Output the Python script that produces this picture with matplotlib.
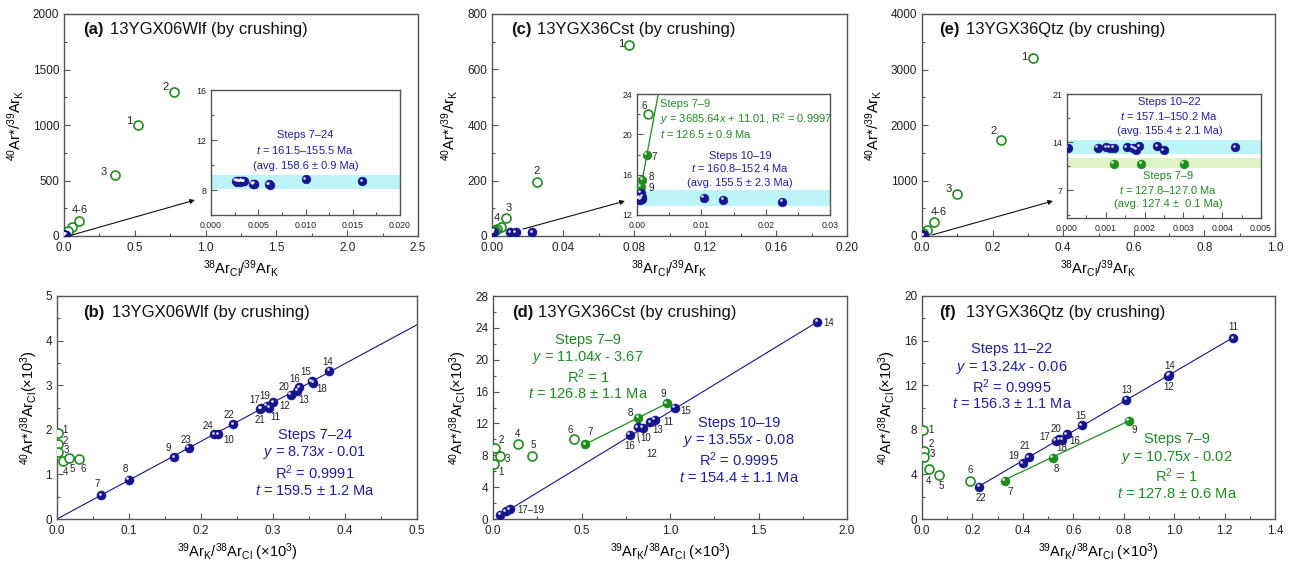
import matplotlib
matplotlib.use("Agg")
import matplotlib.pyplot as plt
from matplotlib.ticker import MultipleLocator, FormatStrFormatter
from matplotlib.transforms import ScaledTranslation

plt.rcParams["font.family"] = ["Liberation Sans", "DejaVu Sans"]
plt.rcParams["mathtext.fontset"] = "custom"
plt.rcParams["mathtext.rm"] = "Liberation Sans"
plt.rcParams["mathtext.it"] = "Liberation Sans:italic"
plt.rcParams["mathtext.bf"] = "Liberation Sans:bold"

# ---------------- values ----------------
# (a) 13YGX06Wlf, 38ArCl/39ArK vs 40Ar*/39ArK
a_open_steps = ["1", "2", "3", "4", "5", "6"]
a_open_x = [0.52, 0.78, 0.36, 0.106, 0.054, 0.030]
a_open_y = [1000, 1300, 550, 138, 84, 48]
a_fill_x = [0.0160, 0.0100, 0.0062, 0.0045, 0.0034, 0.0033, 0.0031, 0.0026, 0.0028,
            0.0030, 0.0034, 0.0028, 0.0032, 0.0030, 0.0035, 0.0044, 0.0061, 0.0046]
a_fill_y = [8.72, 8.86, 8.43, 8.48, 8.70, 8.72, 8.68, 8.75, 8.74,
            8.70, 8.72, 8.68, 8.75, 8.70, 8.72, 8.50, 8.45, 8.50]
a_band = [8.05, 9.23]

# (b) 13YGX06Wlf, 39ArK/38ArCl vs 40Ar*/38ArCl (x1000)
b_open_x = [0.002, 0.002, 0.002, 0.008, 0.016, 0.031]
b_open_y = [1.92, 1.68, 1.51, 1.30, 1.36, 1.35]
b_steps = [str(s) for s in range(7, 25)]
b_x = [0.0614, 0.0994, 0.1627, 0.2242, 0.2949, 0.3005, 0.334, 0.378, 0.3537,
       0.3365, 0.284, 0.356, 0.2913, 0.325, 0.2824, 0.245, 0.183, 0.2186]
b_y = [0.53, 0.88, 1.38, 1.90, 2.50, 2.62, 2.87, 3.32, 3.09,
       2.95, 2.48, 3.06, 2.54, 2.79, 2.47, 2.12, 1.60, 1.90]
b_fit_x = [0.0, 0.5]
b_fit_y = [0.0, 4.355]

# (c) 13YGX36Cst, 38ArCl/39ArK vs 40Ar*/39ArK
c_open_x = [0.0773, 0.0256, 0.0077, 0.0051, 0.0030, 0.0017]
c_open_y = [688, 193, 64, 31, 25, 22.0]
c_green_x = [0.0015, 0.0008, 0.0006]
c_green_y = [18.0, 15.5, 14.8]
c_blue_x = [0.0006, 0.0001, 0.0004, 0.0008, 0.0005, 0.0104, 0.0134, 0.0226, 0.0003, 0.0007]
c_blue_y = [14.2, 13.6, 13.7, 13.8, 13.5, 13.7, 13.5, 13.3, 13.6, 13.6]
c_band = [12.85, 14.5]
c_fit_x = [-0.0002, 0.0033]
c_fit_y = [12.0, 24.0]

# (d) 13YGX36Cst, 39ArK/38ArCl vs 40Ar*/38ArCl (x1000)
d_open_x = [0.006, 0.013, 0.038, 0.141, 0.222, 0.456]
d_open_y = [6.89, 8.89, 7.85, 9.43, 7.85, 10.06]
d_green_x = [0.522, 0.821, 0.983]
d_green_y = [9.39, 12.73, 14.52]
d_blue_steps = ["10", "11", "12", "13", "14", "15", "16", "17", "18", "19"]
d_blue_x = [0.847, 0.915, 0.819, 0.889, 1.832, 1.026, 0.772, 0.041, 0.072, 0.094]
d_blue_y = [11.48, 12.44, 11.52, 12.15, 24.75, 13.99, 10.56, 0.54, 0.96, 1.25]
d_blue_fit_x = [0.041, 1.832]
d_blue_fit_y = [0.48, 24.74]
d_green_fit_x = [0.522, 0.983]
d_green_fit_y = [9.39, 14.52]

# (e) 13YGX36Qtz, 38ArCl/39ArK vs 40Ar*/39ArK
e_open_x = [0.315, 0.223, 0.100, 0.035, 0.013, 0.004]
e_open_y = [3213, 1730, 757, 246, 108, 48]
e_green_x = [0.00121, 0.00191, 0.00301]
e_green_y = [10.9, 10.9, 10.85]
e_blue_x = [0.00002, 0.00079, 0.00101, 0.00121, 0.00154, 0.00175, 0.00179,
            0.00186, 0.00233, 0.00249, 0.00433, 0.00170, 0.00110]
e_blue_y = [13.2, 13.2, 13.27, 13.17, 13.27, 13.1, 12.9,
            13.4, 13.4, 12.87, 13.27, 13.2, 13.2]
e_band_blue = [12.3, 14.33]
e_band_green = [10.2, 11.7]

# (f) 13YGX36Qtz, 39ArK/38ArCl vs 40Ar*/38ArCl (x1000)
f_open_x = [0.003, 0.007, 0.009, 0.029, 0.066, 0.190]
f_open_y = [7.95, 6.10, 5.55, 4.44, 3.99, 3.39]
f_green_x = [0.328, 0.518, 0.820]
f_green_y = [3.45, 5.49, 8.79]
f_blue_steps = ["11", "12", "13", "14", "15", "16", "17", "18", "19", "20", "21", "22"]
f_blue_x = [1.235, 0.977, 0.810, 0.981, 0.634, 0.575, 0.530, 0.556, 0.399, 0.545, 0.423, 0.228]
f_blue_y = [16.19, 12.83, 10.70, 12.95, 8.40, 7.59, 7.02, 7.10, 5.01, 7.15, 5.55, 2.91]
f_blue_fit_x = [0.228, 1.235]
f_blue_fit_y = [2.96, 16.29]
f_green_fit_x = [0.328, 0.820]
f_green_fit_y = [3.51, 8.80]

# ---------------- styling ----------------
BLUE = "#15158e"
BLUE_TXT = "#1e1eaa"
GREEN = "#1f8c1f"
CYAN = "#bdf4f8"
LIME = "#dff4c4"
SPINE = "#555555"

fig = plt.figure(figsize=(12.95, 5.66), dpi=100)


def px_axes(left, top, right, bottom):
    W, H = 1295.0, 566.0
    return fig.add_axes([left / W, (H - bottom) / H, (right - left) / W, (bottom - top) / H])


def style(ax, xmaj, ymaj, xfmt, yfmt, size=8.5, xlim=None, ylim=None):
    ax.set_xlim(*xlim)
    ax.set_ylim(*ylim)
    ax.xaxis.set_major_locator(MultipleLocator(xmaj))
    ax.xaxis.set_minor_locator(MultipleLocator(xmaj / 2))
    ax.yaxis.set_major_locator(MultipleLocator(ymaj))
    ax.yaxis.set_minor_locator(MultipleLocator(ymaj / 2))
    ax.xaxis.set_major_formatter(FormatStrFormatter(xfmt))
    ax.yaxis.set_major_formatter(FormatStrFormatter(yfmt))
    ax.tick_params(which="both", direction="in", top=False, right=False,
                   color=SPINE, labelcolor="#222222", labelsize=size, width=0.8)
    ax.tick_params(which="major", length=4)
    ax.tick_params(which="minor", length=2)
    ax.tick_params(axis="x", pad=4.5)
    for s in ax.spines.values():
        s.set_color(SPINE)
        s.set_linewidth(1.0)


def spheres(ax, x, y, color, ms=6.5):
    ax.plot(x, y, "o", ms=ms, mfc=color, mec=color, mew=0.4, ls="none", zorder=4)
    shift = ax.transData + ScaledTranslation(-ms * 0.17 / 72, ms * 0.17 / 72, fig.dpi_scale_trans)
    ax.plot(x, y, "o", ms=ms * 0.3, mfc="white", mec="none", alpha=0.85, ls="none",
            transform=shift, zorder=4.1)


def rings(ax, x, y, ms=6.5):
    ax.plot(x, y, "o", ms=ms, mfc="white", mec=GREEN, mew=1.2, ls="none", zorder=3)


def tag(ax, text, x, y, dx, dy, size=7):
    ax.annotate(text, (x, y), xytext=(dx, dy), textcoords="offset pixels",
                ha="center", va="center", fontsize=size, color="#222222", zorder=6)


def block(ax, lines, x, ys, color, size, ha="center"):
    for line, yy in zip(lines, ys):
        ax.text(x, yy, line, color=color, fontsize=size, ha=ha, va="center", zorder=6)


def title(ax, letter, name, xl, xn, y):
    ax.text(xl, y, letter, transform=ax.transAxes, fontsize=12, fontweight="bold",
            ha="left", va="center", color="#111111")
    ax.text(xn, y, name, transform=ax.transAxes, fontsize=12, ha="left", va="center",
            color="#111111")


top_xlabel = r"$^{38}$Ar$_{\rm Cl}$/$^{39}$Ar$_{\rm K}$"
top_ylabel = r"$^{40}$Ar*/$^{39}$Ar$_{\rm K}$"
bot_xlabel = r"$^{39}$Ar$_{\rm K}$/$^{38}$Ar$_{\rm Cl}$ (×10$^3$)"
bot_ylabel = r"$^{40}$Ar*/$^{38}$Ar$_{\rm Cl}$(×10$^3$)"

# ================= (a) =================
ax = px_axes(64, 14, 418, 236)
style(ax, 0.5, 500, "%.1f", "%d", xlim=(0, 2.5), ylim=(0, 2000))
rings(ax, a_open_x, a_open_y)
spheres(ax, a_fill_x, a_fill_y, BLUE)
for s, x, y, off in zip(["1", "2", "3"], a_open_x, a_open_y, [(-8, 4), (-9, 5), (-11, 3)]):
    tag(ax, s, x, y, *off, size=8)
tag(ax, "4-6", a_open_x[3], a_open_y[3], 1, 11, size=8)
ax.annotate("", xy=(0.925, 324), xytext=(0.056, 9),
            arrowprops=dict(arrowstyle="-|>", lw=0.8, color="#111111", mutation_scale=7,
                            shrinkA=0, shrinkB=0))
title(ax, "(a)", "13YGX06Wlf (by crushing)", 0.054, 0.13, 0.928)
ax.set_xlabel(top_xlabel, fontsize=10.5, labelpad=3)
ax.set_ylabel(top_ylabel, fontsize=10.5, labelpad=5)

ins = px_axes(211, 90, 400, 215)
style(ins, 0.005, 4, "%.3f", "%d", size=6.3, xlim=(0, 0.02), ylim=(6, 16))
ins.axhspan(*a_band, color=CYAN, lw=0, zorder=1)
spheres(ins, a_fill_x, a_fill_y, BLUE, ms=6.3)
block(ins, ["Steps 7–24", "$t$ = 161.5–155.5 Ma", "(avg. 158.6 ± 0.9 Ma)"],
      0.0100, [12.41, 11.18, 9.94], BLUE_TXT, 8)

# ================= (b) =================
ax = px_axes(57, 296, 417, 519)
style(ax, 0.1, 1, "%.1f", "%d", xlim=(0, 0.5), ylim=(0, 5))
ax.plot(b_fit_x, b_fit_y, color=BLUE, lw=0.8, zorder=2)
rings(ax, b_open_x, b_open_y)
spheres(ax, b_x, b_y, BLUE)
b_off = {"7": (-4, 11), "8": (-3, 11), "9": (-6, 9), "10": (10, -6), "11": (6, -9),
         "12": (11, -4), "13": (6, -9), "14": (-1, 9), "15": (-6, 9), "16": (-5, 8),
         "17": (-7, 8), "18": (8, -6), "19": (-2, 10), "20": (-7, 8), "21": (0, -11),
         "22": (-4, 9), "23": (-3, 8), "24": (-6, 8)}
for s, x, y in zip(b_steps, b_x, b_y):
    tag(ax, s, x, y, *b_off[s])
for s, x, y, off in zip(["1", "2", "3", "4", "5", "6"], b_open_x, b_open_y,
                        [(7, 3), (7, 3), (8, 2), (3, -11), (4, -11), (4, -10)]):
    tag(ax, s, x, y, *off)
block(ax, ["Steps 7–24", "$y$ = 8.73$x$ - 0.01", "R$^2$ = 0.9991", "$t$ = 159.5 ± 1.2 Ma"],
      0.358, [1.89, 1.48, 1.03, 0.63], BLUE_TXT, 10.5)
title(ax, "(b)", "13YGX06Wlf (by crushing)", 0.072, 0.153, 0.924)
ax.set_xlabel(bot_xlabel, fontsize=10.5, labelpad=3)
ax.set_ylabel(bot_ylabel, fontsize=10.5, labelpad=4)

# ================= (c) =================
ax = px_axes(492, 14, 847, 236)
style(ax, 0.04, 200, "%.2f", "%d", xlim=(0, 0.2), ylim=(0, 800))
rings(ax, c_open_x, c_open_y)
spheres(ax, c_green_x, c_green_y, GREEN)
spheres(ax, c_blue_x, c_blue_y, BLUE)
for s, x, y, off in zip(["1", "2", "3", "4"], c_open_x, c_open_y,
                        [(-8, 1), (-1, 11), (3, 10), (-4, 9)]):
    tag(ax, s, x, y, *off, size=8)
ax.annotate("", xy=(0.0749, 126), xytext=(0.0175, 25),
            arrowprops=dict(arrowstyle="-|>", lw=0.8, color="#111111", mutation_scale=7,
                            shrinkA=0, shrinkB=0))
title(ax, "(c)", "13YGX36Cst (by crushing)", 0.054, 0.126, 0.928)
ax.set_xlabel(top_xlabel, fontsize=10.5, labelpad=3)
ax.set_ylabel(top_ylabel, fontsize=10.5, labelpad=5)

ins = px_axes(637, 94, 830, 215)
style(ins, 0.01, 4, "%.2f", "%d", size=6.3, xlim=(0, 0.03), ylim=(12, 24))
ins.axhspan(*c_band, color=CYAN, lw=0, zorder=1)
ins.plot(c_fit_x, c_fit_y, color=GREEN, lw=0.9, zorder=2)
rings(ins, c_open_x[5:], c_open_y[5:], ms=6.3)
spheres(ins, c_green_x, c_green_y, GREEN, ms=6.3)
spheres(ins, c_blue_x, c_blue_y, BLUE, ms=6.3)
tag(ins, "6", c_open_x[5], c_open_y[5], -4, 8)
for s, x, y, off in zip(["7", "8", "9"], c_green_x, c_green_y, [(8, -2), (9, 3), (10, -1)]):
    tag(ins, s, x, y, *off)
block(ins, ["Steps 7–9", "$y$ = 3685.64$x$ + 11.01, R$^2$ = 0.9997", "$t$ = 126.5 ± 0.9 Ma"],
      0.0035, [23.0, 21.5, 20.0], GREEN, 8, ha="left")
block(ins, ["Steps 10–19", "$t$ = 160.8–152.4 Ma", "(avg. 155.5 ± 2.3 Ma)"],
      0.016, [17.9, 16.7, 15.2], BLUE_TXT, 8)

# ================= (d) =================
ax = px_axes(493, 296, 847, 519)
style(ax, 0.5, 4, "%.1f", "%d", xlim=(0, 2.0), ylim=(0, 28))
ax.plot(d_blue_fit_x, d_blue_fit_y, color=BLUE, lw=0.8, zorder=2)
ax.plot(d_green_fit_x, d_green_fit_y, color=GREEN, lw=0.9, zorder=2)
rings(ax, d_open_x, d_open_y)
spheres(ax, d_green_x, d_green_y, GREEN)
spheres(ax, d_blue_x, d_blue_y, BLUE)
for s, x, y, off in zip(["1", "2", "3", "4", "5", "6"], d_open_x, d_open_y,
                        [(7, -8), (6, 8), (8, -3), (0, 10), (1, 11), (-3, 9)]):
    tag(ax, s, x, y, *off)
for s, x, y, off in zip(["7", "8", "9"], d_green_x, d_green_y, [(5, 12), (-8, 5), (-4, 9)]):
    tag(ax, s, x, y, *off)
d_off = {"10": (3, -10), "11": (13, -2), "13": (7, -8), "14": (11, -1), "15": (11, -3),
         "16": (0, -11)}
for s, x, y in zip(d_blue_steps, d_blue_x, d_blue_y):
    if s in d_off:
        tag(ax, s, x, y, *d_off[s])
tag(ax, "17–19", d_blue_x[9], d_blue_y[9], 21, -1)
ax.annotate("12", xy=(d_blue_x[2], d_blue_y[2] - 0.7), xytext=(0.895, 8.2),
            fontsize=7, color="#222222", ha="center", va="center", zorder=6,
            arrowprops=dict(arrowstyle="-", lw=0.7, color="#333333",
                            connectionstyle="arc3,rad=-0.35", shrinkA=5, shrinkB=0))
block(ax, ["Steps 7–9", "$y$ = 11.04$x$ - 3.67", "R$^2$ = 1", "$t$ = 126.8 ± 1.1 Ma"],
      0.537, [22.5, 20.3, 17.9, 15.65], GREEN, 10.5)
block(ax, ["Steps 10–19", "$y$ = 13.55$x$ - 0.08", "R$^2$ = 0.9995", "$t$ = 154.4 ± 1.1 Ma"],
      1.39, [12.1, 9.8, 7.4, 5.1], BLUE_TXT, 10.5)
title(ax, "(d)", "13YGX36Cst (by crushing)", 0.053, 0.126, 0.924)
ax.set_xlabel(bot_xlabel, fontsize=10.5, labelpad=3)
ax.set_ylabel(bot_ylabel, fontsize=10.5, labelpad=4)

# ================= (e) =================
ax = px_axes(922, 14, 1275, 236)
style(ax, 0.2, 1000, "%.1f", "%d", xlim=(0, 1.0), ylim=(0, 4000))
rings(ax, e_open_x, e_open_y)
spheres(ax, e_green_x, e_green_y, GREEN)
spheres(ax, e_blue_x, e_blue_y, BLUE)
for s, x, y, off in zip(["1", "2", "3"], e_open_x, e_open_y, [(-9, 1), (-7, 9), (-9, 5)]):
    tag(ax, s, x, y, *off, size=8)
tag(ax, "4-6", e_open_x[3], e_open_y[3], 4, 10, size=8)
ax.annotate("", xy=(0.371, 631), xytext=(0.028, 18),
            arrowprops=dict(arrowstyle="-|>", lw=0.8, color="#111111", mutation_scale=7,
                            shrinkA=0, shrinkB=0))
title(ax, "(e)", "13YGX36Qtz (by crushing)", 0.049, 0.125, 0.928)
ax.set_xlabel(top_xlabel, fontsize=10.5, labelpad=3)
ax.set_ylabel(top_ylabel, fontsize=10.5, labelpad=5)

ins = px_axes(1067, 94, 1261, 218)
style(ins, 0.001, 7, "%.3f", "%d", size=6.3, xlim=(0, 0.005), ylim=(3, 21))
ins.axhspan(*e_band_blue, color=CYAN, lw=0, zorder=1)
ins.axhspan(*e_band_green, color=LIME, lw=0, zorder=1)
spheres(ins, e_green_x, e_green_y, GREEN, ms=6.3)
spheres(ins, e_blue_x, e_blue_y, BLUE, ms=6.3)
block(ins, ["Steps 10–22", "$t$ = 157.1–150.2 Ma", "(avg. 155.4 ± 2.1 Ma)"],
      0.00264, [19.8, 17.77, 15.68], BLUE_TXT, 8)
block(ins, ["Steps 7–9", "$t$ = 127.8–127.0 Ma", "(avg. 127.4 ±  0.1 Ma)"],
      0.0026, [9.07, 7.13, 5.06], GREEN, 8)

# ================= (f) =================
ax = px_axes(922, 296, 1275, 519)
style(ax, 0.2, 4, "%.1f", "%d", xlim=(0, 1.4), ylim=(0, 20))
ax.plot(f_blue_fit_x, f_blue_fit_y, color=BLUE, lw=0.8, zorder=2)
ax.plot(f_green_fit_x, f_green_fit_y, color=GREEN, lw=0.9, zorder=2)
rings(ax, f_open_x, f_open_y)
spheres(ax, f_green_x, f_green_y, GREEN)
spheres(ax, f_blue_x, f_blue_y, BLUE)
for s, x, y, off in zip(["1", "2", "3", "4", "5", "6"], f_open_x, f_open_y,
                        [(8, 0), (7, 7), (8, 3), (-1, -12), (3, -11), (0, 11)]):
    tag(ax, s, x, y, *off)
for s, x, y, off in zip(["7", "8", "9"], f_green_x, f_green_y, [(5, -11), (4, -11), (5, -9)]):
    tag(ax, s, x, y, *off)
f_off = {"11": (0, 11), "12": (0, -11), "13": (0, 10), "14": (0, 9), "15": (-1, 9),
         "16": (8, -7), "17": (-11, 4), "18": (-1, -8), "19": (-9, 7), "20": (-3, 10),
         "21": (-4, 11), "22": (1, -11)}
for s, x, y in zip(f_blue_steps, f_blue_x, f_blue_y):
    tag(ax, s, x, y, *f_off[s])
block(ax, ["Steps 11–22", "$y$ = 13.24$x$ - 0.06", "R$^2$ = 0.9995", "$t$ = 156.3 ± 1.1 Ma"],
      0.357, [15.23, 13.58, 11.84, 10.28], BLUE_TXT, 10.5)
block(ax, ["Steps 7–9", "$y$ = 10.75$x$ - 0.02", "R$^2$ = 1", "$t$ = 127.8 ± 0.6 Ma"],
      1.01, [7.14, 5.55, 3.90, 2.25], GREEN, 10.5)
title(ax, "(f)", "13YGX36Qtz (by crushing)", 0.049, 0.125, 0.924)
ax.set_xlabel(bot_xlabel, fontsize=10.5, labelpad=3)
ax.set_ylabel(bot_ylabel, fontsize=10.5, labelpad=4)

fig.savefig("out.png", dpi=100)
